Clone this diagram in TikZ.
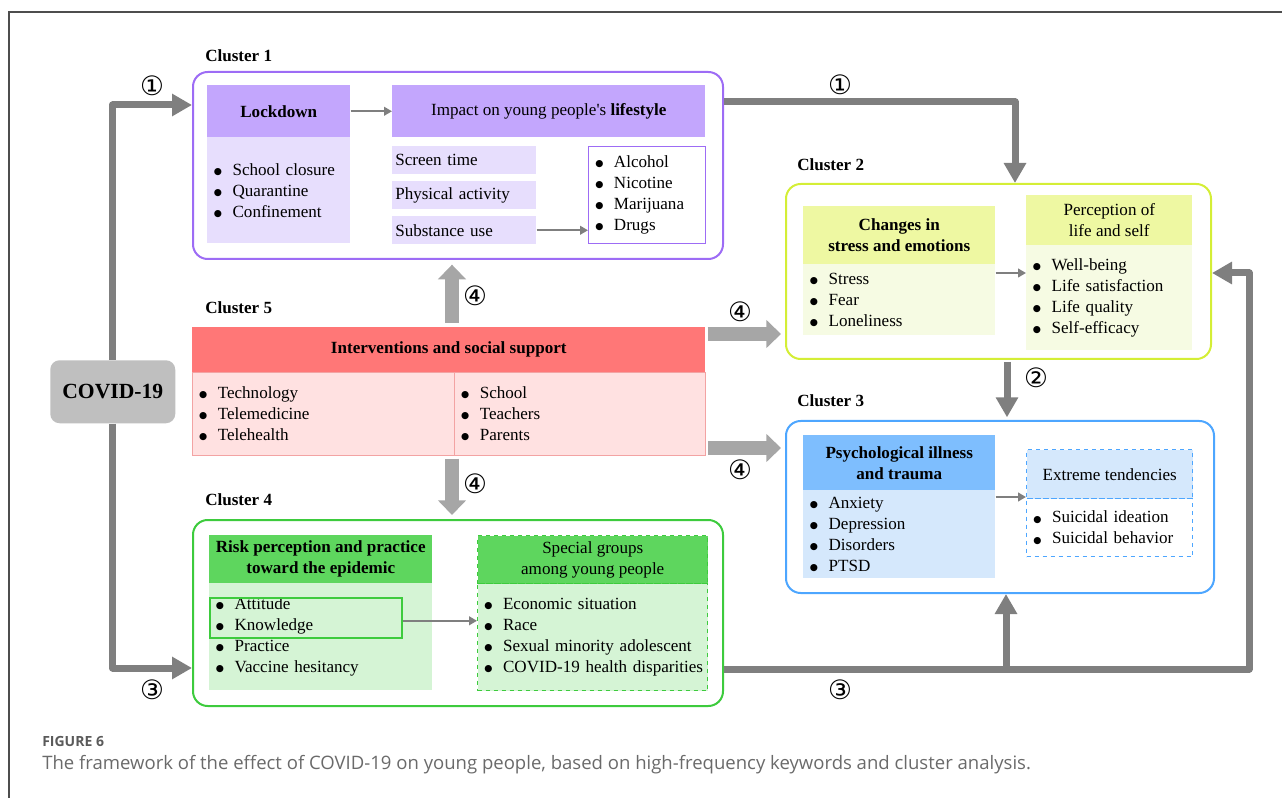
\documentclass[tikz,border=0pt]{standalone}
\usepackage{fontspec}
\setmainfont{Liberation Serif}
\newfontfamily\capfont{Open Sans}
\newfontfamily\symfont{DejaVu Sans}
\usetikzlibrary{arrows.meta,calc}
\definecolor{purp}{HTML}{9D6CF5}
\definecolor{lavh}{HTML}{C3A6FD}
\definecolor{lavl}{HTML}{E7DEFD}
\definecolor{ygb}{HTML}{D4EE36}
\definecolor{ygh}{HTML}{EEF8A2}
\definecolor{ygl}{HTML}{F6FBE3}
\definecolor{blb}{HTML}{4DA6FF}
\definecolor{blh}{HTML}{7EBEFE}
\definecolor{bll}{HTML}{D5E8FC}
\definecolor{grb}{HTML}{3DCB3D}
\definecolor{grh}{HTML}{5ED65E}
\definecolor{grl}{HTML}{D5F4D5}
\definecolor{rdh}{HTML}{FF7777}
\definecolor{rdl}{HTML}{FFE1E1}
\definecolor{rdb}{HTML}{F3A3A3}
\definecolor{cov}{HTML}{BFBFBF}
\definecolor{darkar}{HTML}{7F7F7F}
\definecolor{lightar}{HTML}{A6A6A6}
\definecolor{framec}{HTML}{4D4D4D}
\definecolor{capc}{HTML}{6A6A6A}
\newcommand\itm[1]{\mbox{\makebox[14pt][l]{\raisebox{0.6pt}{\symfont\fontsize{7}{0}\selectfont ●}}#1}}
\begin{document}
\begin{tikzpicture}[x=0.75pt,y=-0.75pt,
  txt/.style={font=\fontsize{12.8}{15.75}\selectfont},
  hdr/.style={txt, inner sep=0pt, align=center, anchor=north west},
  lst/.style={txt, anchor=north west, align=left, inner xsep=5pt, inner ysep=0pt},
  clus/.style={anchor=north west, inner sep=0pt, rounded corners=11pt, line width=1.5pt, fill=white},
  clab/.style={anchor=west, inner sep=0pt, font=\fontsize{12.8}{15}\selectfont\bfseries},
  num/.style={inner sep=0pt, font=\symfont\fontsize{20}{20}\selectfont},
  darr/.style={draw=darkar, line width=5.25pt, line join=round, -{Triangle[length=15pt,width=16pt]}},
  barr/.style={draw=lightar, line width=10pt, -{Triangle[length=11pt,width=20.5pt]}},
  tarr/.style={draw=darkar, line width=1.5pt, -{Triangle[length=6pt,width=6.5pt]}}]
\useasboundingbox (0,0) rectangle (1282,798);
% outer frame
\draw[framec, line width=1.1pt] (9,798) -- (9,12) -- (1282,12);

% ---------- Cluster frames ----------
\node[clus, draw=purp, minimum width=397.5pt, minimum height=140.25pt] (c1) at (192,71) {};
\node[clus, draw=ygb, minimum width=318.75pt, minimum height=131.25pt] (c2) at (785,183) {};
\node[clus, draw=blb, minimum width=321pt, minimum height=129pt] (c3) at (785,420) {};
\node[clus, draw=grb, minimum width=397.5pt, minimum height=139.5pt] (c4) at (192,519) {};

% cluster labels
\node[clab] (l1) at (205,56) {Cluster 1};
\node[clab] (l2) at (797,165) {Cluster 2};
\node[clab] (l3) at (797,401) {Cluster 3};
\node[clab] (l4) at (205,500) {Cluster 4};
\node[clab] (l5) at (205,308) {Cluster 5};

% ---------- Cluster 1 ----------
\node[hdr, fill=lavh, minimum width=107.25pt, minimum height=39pt] (lockh) at (207,85) {\bfseries Lockdown};
\node[lst, fill=lavl, text width=97.25pt, minimum height=79.5pt] (lockb) at (207,137)
  {\itm{School closure}\\\itm{Quarantine}\\\itm{Confinement}};
\node[hdr, fill=lavh, minimum width=234.75pt, minimum height=39pt] (imph) at (392,85) {Impact on young people\textquotesingle s \textbf{lifestyle}};
\node[lst, fill=lavl, inner xsep=2.25pt, text width=103.5pt, minimum height=21pt] (scr) at (392,146) {Screen time};
\node[lst, fill=lavl, inner xsep=2.25pt, text width=103.5pt, minimum height=21pt] (phy) at (392,181) {Physical activity};
\node[lst, fill=lavl, inner xsep=2.25pt, text width=103.5pt, minimum height=21pt] (sub) at (392,216) {Substance use};
\node[lst, fill=white, draw=purp, line width=0.9pt, text width=77.75pt, minimum height=72.75pt] (alc) at (588,146)
  {\itm{Alcohol}\\\itm{Nicotine}\\\itm{Marijuana}\\\itm{Drugs}};
\draw[tarr] (lockh.east) -- (imph.west);
\draw[tarr] (sub.east) -- (sub.east -| alc.west);

% ---------- Cluster 2 ----------
\node[hdr, fill=ygh, minimum width=144pt, minimum height=43.5pt] (chh) at (803,206) {\bfseries Changes in\\\bfseries stress and emotions};
\node[lst, fill=ygl, text width=134pt, minimum height=53.25pt] (chb) at (803,264)
  {\itm{Stress}\\\itm{Fear}\\\itm{Loneliness}};
\node[hdr, fill=ygh, minimum width=124.5pt, minimum height=37.5pt] (ph) at (1026,195) {Perception of\\life and self};
\node[lst, fill=ygl, text width=114.5pt, minimum height=78.75pt] (pb) at (1026,245)
  {\itm{Well-being}\\\itm{Life satisfaction}\\\itm{Life quality}\\\itm{Self-efficacy}};
\draw[tarr] ($(chb.north east)+(0,9)$) coordinate (a2) -- (a2 -| pb.west);

% ---------- Cluster 3 ----------
\node[hdr, fill=blh, minimum width=144pt, minimum height=41.25pt] (psh) at (803,435) {\bfseries Psychological illness\\\bfseries and trauma};
\node[lst, fill=bll, text width=134pt, minimum height=66pt] (psb) at (803,490)
  {\itm{Anxiety}\\\itm{Depression}\\\itm{Disorders}\\\itm{PTSD}};
\node[hdr, fill=bll, draw=blb, dashed, line width=1.1pt, minimum width=124.5pt, minimum height=36.75pt] (exh) at (1026,449) {Extreme tendencies};
\node[lst, fill=white, draw=blb, dashed, line width=1.1pt, text width=114.5pt, minimum height=43.5pt] (exb) at (1026,498)
  {\itm{Suicidal ideation}\\\itm{Suicidal behavior}};
\draw[tarr] ($(psb.north east)+(0,7)$) coordinate (a3) -- (a3 -| exb.west);

% ---------- Cluster 4 ----------
\node[hdr, fill=grh, minimum width=167.25pt, minimum height=36pt] (rkh) at (209,535) {\bfseries Risk perception and practice\\\bfseries toward the epidemic};
\node[lst, fill=grl, text width=157.25pt, minimum height=80.25pt] (rkb) at (209,583)
  {\itm{Attitude}\\\itm{Knowledge}\\\itm{Practice}\\\itm{Vaccine hesitancy}};
\node[anchor=north west, inner sep=0pt, draw=grb, line width=1.2pt, minimum width=144pt, minimum height=30pt] (att) at (209,597) {};
\node[hdr, fill=grh, draw=grb, dashed, line width=1.1pt, minimum width=172.5pt, minimum height=36pt] (sph) at (477,535) {Special groups\\among young people};
\node[lst, fill=grl, draw=grb, dashed, line width=1.1pt, text width=162.5pt, minimum height=80.25pt] (spb) at (477,583)
  {\itm{Economic situation}\\\itm{Race}\\\itm{Sexual minority adolescent}\\\itm{COVID-19 health disparities}};
\draw[tarr] ($(att.east)+(0,3)$) coordinate (a4) -- (a4 -| spb.west);

% ---------- Cluster 5 ----------
\node[hdr, fill=rdh, minimum width=384.75pt, minimum height=33.75pt] (c5h) at (192,327) {\bfseries Interventions and social support};
\node[lst, fill=rdl, draw=rdb, line width=0.7pt, text width=186.5pt, minimum height=62.25pt] (c5l) at (192,372)
  {\itm{Technology}\\\itm{Telemedicine}\\\itm{Telehealth}};
\node[lst, fill=rdl, draw=rdb, line width=0.7pt, text width=178.25pt, minimum height=62.25pt] (c5r) at (454,372)
  {\itm{School}\\\itm{Teachers}\\\itm{Parents}};

% ---------- COVID-19 ----------
\node[anchor=north west, fill=cov, rounded corners=7pt, minimum width=93.75pt, minimum height=47.25pt, inner sep=0pt,
  font=\fontsize{16.2}{18}\selectfont\bfseries] (cv) at (50,360) {COVID-19};

% ---------- main arrows ----------
\draw[darr] (cv.north) |- (c1.west |- 0,105);
\draw[darr] (cv.south) |- (c4.west |- 0,668);
\draw[darr] (c1.east |- 0,102) -| (c2.north -| 1015,0);
\coordinate (rt) at (1249,273);
\draw[darr] (c4.east |- 0,669) -| (rt) -- (c2.east |- rt);
\coordinate (br) at (1006,669);
\draw[darr] (br) -- (br |- c3.south);
\draw[darr, shorten <=1.5pt, shorten >=2pt] (c2.south -| 1007,0) -- (c3.north -| 1007,0);

% ---------- block arrows (4) ----------
\draw[barr, shorten <=3pt, shorten >=3.5pt] (c5h.north -| 452,0) -- (c1.south -| 452,0);
\draw[barr, shorten <=2pt, shorten >=3pt] (c5r.south -| 452,0) -- (c4.north -| 452,0);
\draw[barr, shorten <=1.5pt, shorten >=3pt] (c5h.east |- 0,334) -- (c2.west |- 0,334);
\draw[barr, shorten <=1.5pt, shorten >=3pt] (c5r.east |- 0,448) -- (c3.west |- 0,448);

% ---------- circled numbers ----------
\node[num] (n1a) at (152,86) {①};
\node[num] (n1b) at (840,85) {①};
\node[num] (n2) at (1036,378) {②};
\node[num] (n3a) at (152,690) {③};
\node[num] (n3b) at (840,690) {③};
\node[num] (n4a) at (475,296) {④};
\node[num] (n4b) at (740,312) {④};
\node[num] (n4c) at (740,470) {④};
\node[num] (n4d) at (475,484) {④};

% ---------- caption ----------
\node[anchor=west, inner sep=0pt, text=capc!85!black, font=\capfont\fontsize{10.5}{12}\selectfont\bfseries] (fig) at (42,741) {FIGURE 6};
\node[anchor=west, inner sep=0pt, text=capc, font=\capfont\fontsize{13.9}{16}\selectfont] (cap) at (42,765)
  {The framework of the effect of COVID-19 on young people, based on high-frequency keywords and cluster analysis.};
\end{tikzpicture}
\end{document}
